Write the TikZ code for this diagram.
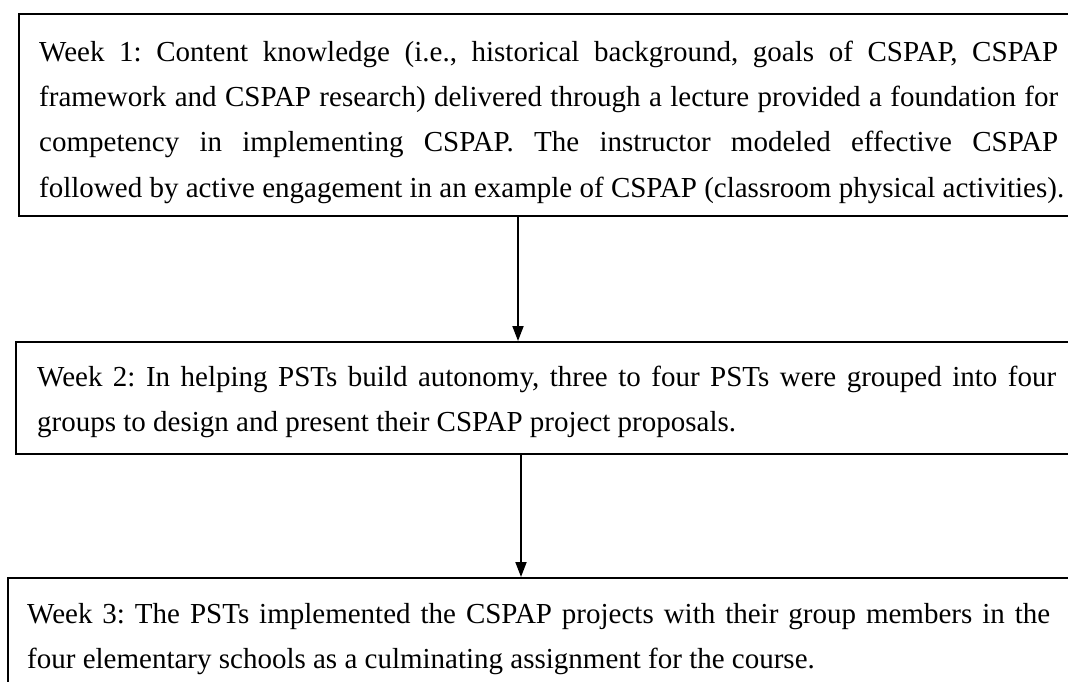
\documentclass[tikz,border=0pt]{standalone}
\usepackage{fontspec}
\setmainfont{Liberation Serif}
\usetikzlibrary{arrows.meta}
\frenchspacing
\tikzset{
  boxnode/.style={draw, line width=2pt, rectangle, anchor=north west, inner sep=0pt},
  linetext/.style={anchor=base west, inner sep=0pt, font=\fontsize{29}{45}\selectfont},
  flowarrow/.style={line width=1.8pt, -{Triangle[length=15pt,width=11pt]}}
}
\newcommand{\jline}[1]{\makebox[1019pt][s]{#1}}
\begin{document}
\begin{tikzpicture}[x=1pt,y=1pt]
\useasboundingbox (0,0) rectangle (1068,-682);
\fill[white] (0,0) rectangle (1068,-682);
% boxes
\node[boxnode, minimum width=1070pt, minimum height=202pt] (b1) at (18,-13) {};
\node[boxnode, minimum width=1075pt, minimum height=112pt] (b2) at (15,-341) {};
\node[boxnode, minimum width=1085pt, minimum height=130pt] (b3) at (7,-577) {};
% box 1 text
\node[linetext] (t11) at (39,-62) {\jline{Week 1: Content knowledge (i.e., historical background, goals of CSPAP, CSPAP}};
\node[linetext] (t12) at (39,-107) {\jline{framework and CSPAP research) delivered through a lecture provided a foundation for}};
\node[linetext] (t13) at (39,-152) {\jline{competency in implementing CSPAP. The instructor modeled effective CSPAP}};
\node[linetext] (t14) at (39,-197) {followed by active engagement in an example of CSPAP (classroom physical activities).};
% box 2 text
\node[linetext] (t21) at (37,-386) {\jline{Week 2: In helping PSTs build autonomy, three to four PSTs were grouped into four}};
\node[linetext] (t22) at (37,-431) {groups to design and present their CSPAP project proposals.};
% box 3 text
\node[linetext] (t31) at (27,-623) {\makebox[1023pt][s]{Week 3: The PSTs implemented the CSPAP projects with their group members in the}};
\node[linetext] (t32) at (27,-668) {four elementary schools as a culminating assignment for the course.};
% arrows
\coordinate (a1) at (518,-215);
\coordinate (a2) at (521,-453);
\draw[flowarrow] (a1) -- (a1 |- b2.north);
\draw[flowarrow] (a2) -- (a2 |- b3.north);
\end{tikzpicture}
\end{document}
